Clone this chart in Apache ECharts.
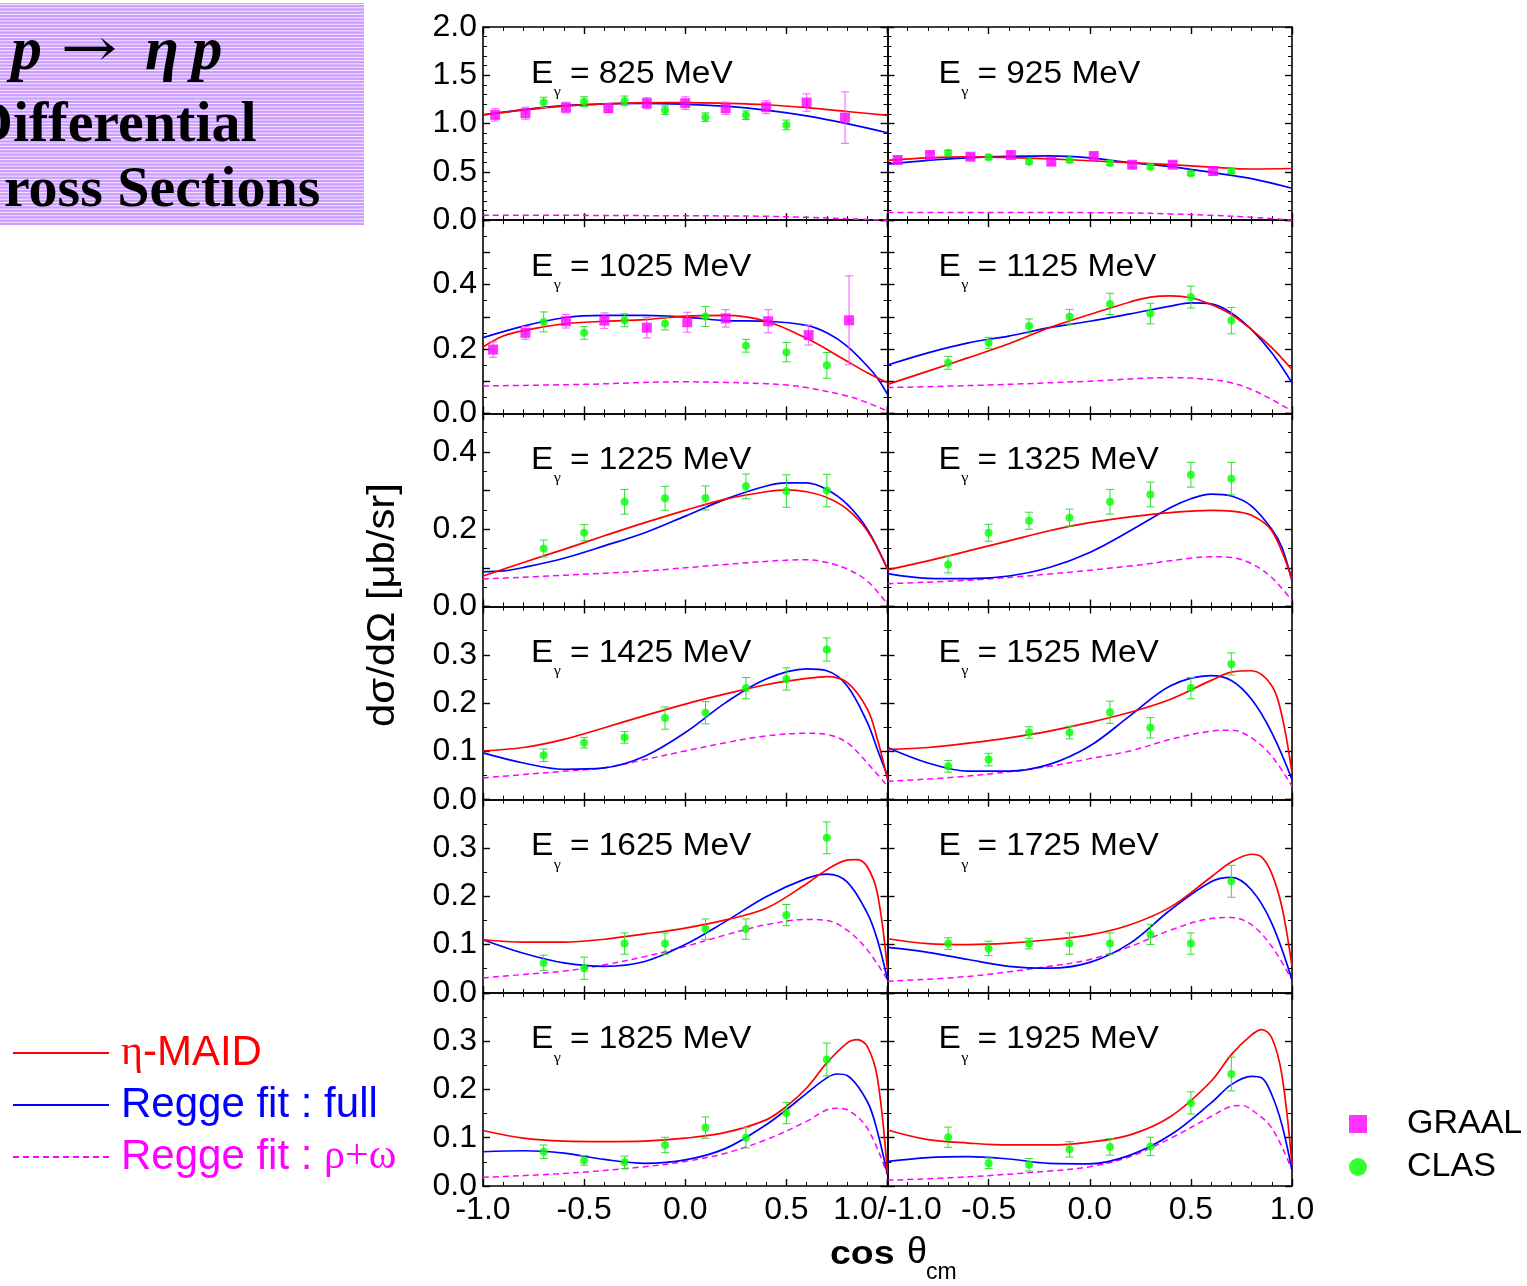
<!DOCTYPE html>
<html>
<head>
<meta charset="utf-8">
<script src="https://cdn.jsdelivr.net/npm/echarts@6/dist/echarts.min.js"></script>
<style>
html, body { margin: 0; padding: 0; background: #fff; }
#chart { width: 1527px; height: 1286px; }
</style>
</head>
<body>
<div id="chart"></div>
<script>
// Photon beam energies (MeV) of the twelve panels, left-to-right, top-to-bottom
const energies = [825, 925, 1025, 1125, 1225, 1325, 1425, 1525, 1625, 1725, 1825, 1925];

// Vertical range of each panel row: top of scale, tick step, labelled step, minor splits
const rowMax = [2.0, 0.6, 0.5, 0.4, 0.4, 0.4];
const rowStep = [0.5, 0.1, 0.1, 0.1, 0.1, 0.1];
const rowLabelStep = [0.5, 0.2, 0.2, 0.1, 0.1, 0.1];
const rowMinor = [5, 2, 2, 2, 2, 2];

// ---- model curves: [cos(theta_cm), dsigma/dOmega] ----
// eta-MAID
const maid825 = [[-1,1.09],[-0.8,1.14],[-0.6,1.18],[-0.4,1.205],[-0.2,1.215],[0,1.218],[0.2,1.21],[0.4,1.195],[0.6,1.165],[0.8,1.125],[1,1.085]];
const maid925 = [[-1,0.62],[-0.8,0.645],[-0.6,0.655],[-0.4,0.648],[-0.2,0.635],[0,0.615],[0.2,0.595],[0.4,0.575],[0.6,0.55],[0.8,0.53],[1,0.535]];
const maid1025 = [[-1,0.206],[-0.9,0.24],[-0.8,0.257],[-0.6,0.278],[-0.4,0.286],[-0.2,0.291],[0,0.302],[0.2,0.304],[0.4,0.286],[0.6,0.233],[0.8,0.162],[0.9,0.126],[1,0.095]];
const maid1125 = [[-1,0.09],[-0.8,0.131],[-0.6,0.173],[-0.4,0.216],[-0.2,0.266],[0,0.307],[0.2,0.346],[0.3,0.361],[0.4,0.365],[0.5,0.359],[0.6,0.338],[0.7,0.307],[0.8,0.26],[0.9,0.204],[1,0.136]];
const maid1225 = [[-1,0.079],[-0.8,0.114],[-0.6,0.148],[-0.4,0.183],[-0.2,0.217],[0,0.249],[0.2,0.278],[0.4,0.297],[0.5,0.302],[0.6,0.297],[0.7,0.282],[0.8,0.252],[0.9,0.196],[1,0.097]];
const maid1325 = [[-1,0.095],[-0.8,0.118],[-0.6,0.144],[-0.4,0.17],[-0.2,0.196],[0,0.217],[0.2,0.232],[0.4,0.243],[0.6,0.249],[0.7,0.247],[0.8,0.236],[0.9,0.196],[1,0.07]];
const maid1425 = [[-1,0.101],[-0.8,0.108],[-0.6,0.125],[-0.4,0.149],[-0.2,0.174],[0,0.198],[0.2,0.219],[0.4,0.238],[0.6,0.251],[0.7,0.255],[0.8,0.243],[0.9,0.188],[0.95,0.125],[1,0.042]];
const maid1525 = [[-1,0.104],[-0.8,0.108],[-0.6,0.117],[-0.4,0.128],[-0.2,0.142],[0,0.16],[0.2,0.181],[0.4,0.208],[0.6,0.247],[0.7,0.264],[0.8,0.267],[0.9,0.236],[0.95,0.174],[1,0.056]];
const maid1625 = [[-1,0.11],[-0.8,0.105],[-0.6,0.105],[-0.4,0.111],[-0.2,0.122],[0,0.134],[0.2,0.151],[0.4,0.175],[0.6,0.226],[0.7,0.255],[0.8,0.275],[0.85,0.276],[0.9,0.261],[0.95,0.206],[1,0.048]];
const maid1725 = [[-1,0.112],[-0.8,0.102],[-0.6,0.1],[-0.4,0.103],[-0.2,0.11],[0,0.12],[0.2,0.141],[0.4,0.178],[0.6,0.24],[0.7,0.271],[0.8,0.287],[0.85,0.281],[0.9,0.247],[0.95,0.178],[1,0.055]];
const maid1825 = [[-1,0.115],[-0.8,0.099],[-0.6,0.093],[-0.4,0.092],[-0.2,0.093],[0,0.099],[0.2,0.111],[0.4,0.137],[0.5,0.165],[0.6,0.203],[0.7,0.255],[0.8,0.296],[0.85,0.303],[0.9,0.289],[0.95,0.224],[1,0.026]];
const maid1925 = [[-1,0.116],[-0.8,0.096],[-0.6,0.089],[-0.4,0.085],[-0.2,0.085],[0,0.091],[0.2,0.106],[0.4,0.144],[0.6,0.217],[0.7,0.272],[0.8,0.313],[0.85,0.324],[0.9,0.307],[0.95,0.23],[1,0.044]];

// Regge fit, full amplitude
const regge825 = [[-1,1.09],[-0.8,1.145],[-0.6,1.185],[-0.4,1.205],[-0.2,1.21],[0,1.2],[0.2,1.18],[0.4,1.14],[0.6,1.08],[0.8,1.0],[1,0.905]];
const regge925 = [[-1,0.58],[-0.8,0.62],[-0.6,0.645],[-0.4,0.66],[-0.2,0.665],[0,0.645],[0.2,0.595],[0.4,0.555],[0.6,0.495],[0.8,0.43],[1,0.33]];
const regge1025 = [[-1,0.235],[-0.8,0.271],[-0.6,0.297],[-0.4,0.304],[-0.2,0.304],[0,0.299],[0.2,0.288],[0.4,0.286],[0.6,0.273],[0.7,0.25],[0.8,0.209],[0.9,0.147],[0.95,0.11],[1,0.059]];
const regge1125 = [[-1,0.15],[-0.8,0.188],[-0.6,0.219],[-0.4,0.24],[-0.2,0.266],[0,0.286],[0.2,0.309],[0.4,0.333],[0.5,0.343],[0.6,0.34],[0.7,0.312],[0.8,0.26],[0.9,0.188],[1,0.095]];
const regge1225 = [[-1,0.09],[-0.9,0.092],[-0.8,0.101],[-0.6,0.125],[-0.4,0.157],[-0.2,0.191],[0,0.234],[0.2,0.278],[0.4,0.312],[0.5,0.32],[0.6,0.32],[0.7,0.303],[0.8,0.265],[0.9,0.2],[1,0.097]];
const regge1325 = [[-1,0.085],[-0.8,0.073],[-0.6,0.072],[-0.4,0.079],[-0.2,0.101],[0,0.14],[0.2,0.196],[0.4,0.256],[0.5,0.279],[0.6,0.291],[0.7,0.286],[0.8,0.26],[0.9,0.2],[0.95,0.153],[1,0.066]];
const regge1425 = [[-1,0.097],[-0.8,0.076],[-0.6,0.063],[-0.4,0.066],[-0.2,0.09],[0,0.139],[0.2,0.201],[0.4,0.25],[0.6,0.271],[0.7,0.267],[0.8,0.236],[0.9,0.16],[0.95,0.104],[1,0.049]];
const regge1525 = [[-1,0.108],[-0.8,0.076],[-0.6,0.059],[-0.4,0.059],[-0.2,0.073],[0,0.111],[0.2,0.174],[0.4,0.236],[0.6,0.257],[0.7,0.247],[0.8,0.208],[0.9,0.139],[1,0.042]];
const regge1625 = [[-1,0.11],[-0.8,0.082],[-0.6,0.062],[-0.4,0.055],[-0.2,0.065],[0,0.1],[0.2,0.148],[0.4,0.199],[0.6,0.237],[0.7,0.246],[0.8,0.23],[0.9,0.165],[0.95,0.11],[1,0.027]];
const regge1725 = [[-1,0.094],[-0.8,0.084],[-0.6,0.069],[-0.4,0.055],[-0.2,0.051],[0,0.063],[0.2,0.103],[0.4,0.172],[0.6,0.23],[0.7,0.239],[0.8,0.213],[0.9,0.144],[1,0.027]];
const regge1825 = [[-1,0.071],[-0.8,0.073],[-0.6,0.068],[-0.4,0.055],[-0.2,0.047],[0,0.054],[0.2,0.078],[0.4,0.127],[0.5,0.158],[0.6,0.192],[0.7,0.224],[0.75,0.232],[0.8,0.229],[0.9,0.175],[0.95,0.113],[1,0.023]];
const regge1925 = [[-1,0.051],[-0.8,0.059],[-0.6,0.061],[-0.4,0.056],[-0.2,0.047],[0,0.046],[0.2,0.064],[0.4,0.106],[0.6,0.172],[0.7,0.21],[0.8,0.227],[0.85,0.224],[0.9,0.189],[0.95,0.127],[1,0.033]];

// Regge fit, rho + omega exchange only
const rhoOmega825 = [[-1,0.05],[-0.6,0.05],[-0.2,0.047],[0.2,0.044],[0.4,0.04],[0.6,0.03],[0.8,0.015],[1,0.0]];
const rhoOmega925 = [[-1,0.08],[-0.5,0.08],[0,0.078],[0.2,0.075],[0.4,0.065],[0.6,0.05],[0.8,0.03],[1,0.0]];
const rhoOmega1025 = [[-1,0.085],[-0.5,0.09],[0,0.098],[0.2,0.096],[0.4,0.092],[0.5,0.088],[0.6,0.08],[0.8,0.054],[0.9,0.033],[1,0.007]];
const rhoOmega1125 = [[-1,0.08],[-0.5,0.088],[0,0.1],[0.4,0.111],[0.6,0.105],[0.7,0.095],[0.8,0.074],[0.9,0.043],[1,0.007]];
const rhoOmega1225 = [[-1,0.071],[-0.6,0.081],[-0.2,0.092],[0.2,0.109],[0.5,0.12],[0.6,0.121],[0.7,0.114],[0.8,0.097],[0.9,0.066],[1,0.006]];
const rhoOmega1325 = [[-1,0.059],[-0.6,0.068],[-0.2,0.084],[0.2,0.105],[0.5,0.125],[0.6,0.129],[0.7,0.127],[0.8,0.111],[0.9,0.075],[1,0.015]];
const rhoOmega1425 = [[-1,0.045],[-0.8,0.052],[-0.6,0.059],[-0.4,0.066],[-0.2,0.083],[0,0.101],[0.2,0.118],[0.4,0.132],[0.6,0.1375],[0.7,0.135],[0.8,0.118],[0.9,0.076],[1,0.028]];
const rhoOmega1525 = [[-1,0.038],[-0.6,0.049],[-0.2,0.069],[0,0.085],[0.2,0.101],[0.4,0.125],[0.6,0.142],[0.7,0.144],[0.8,0.128],[0.9,0.09],[1,0.028]];
const rhoOmega1625 = [[-1,0.031],[-0.8,0.038],[-0.6,0.045],[-0.4,0.058],[-0.2,0.075],[0,0.096],[0.2,0.12],[0.4,0.141],[0.6,0.152],[0.7,0.15],[0.8,0.13],[0.9,0.089],[1,0.027]];
const rhoOmega1725 = [[-1,0.024],[-0.6,0.034],[-0.2,0.055],[0,0.069],[0.2,0.096],[0.4,0.13],[0.6,0.154],[0.7,0.156],[0.8,0.141],[0.9,0.096],[1,0.027]];
const rhoOmega1825 = [[-1,0.018],[-0.6,0.026],[-0.2,0.04],[0,0.051],[0.2,0.068],[0.4,0.096],[0.6,0.134],[0.7,0.158],[0.75,0.161],[0.8,0.158],[0.9,0.12],[1,0.023]];
const rhoOmega1925 = [[-1,0.012],[-0.6,0.019],[-0.2,0.031],[0,0.04],[0.2,0.061],[0.4,0.099],[0.6,0.144],[0.7,0.165],[0.75,0.167],[0.8,0.158],[0.9,0.12],[1,0.033]];

// ---- measurements: [cos(theta_cm), dsigma/dOmega, error] ----
const graal825 = [[-0.94,1.09,0.064],[-0.79,1.107,0.062],[-0.59,1.166,0.055],[-0.38,1.159,0.045],[-0.19,1.211,0.057],[0,1.211,0.066],[0.2,1.159,0.064],[0.4,1.17,0.067],[0.6,1.218,0.09],[0.79,1.062,0.266]];
const graal925 = [[-0.95,0.623,0.03],[-0.79,0.675,0.03],[-0.59,0.657,0.03],[-0.39,0.675,0.03],[-0.19,0.606,0.03],[0.02,0.664,0.03],[0.21,0.574,0.03],[0.41,0.574,0.03],[0.61,0.509,0.04]];
const graal1025 = [[-0.95,0.198,0.024],[-0.79,0.25,0.02],[-0.59,0.286,0.021],[-0.4,0.288,0.024],[-0.19,0.266,0.032],[0.01,0.283,0.031],[0.2,0.295,0.027],[0.41,0.286,0.036],[0.61,0.243,0.031],[0.81,0.289,0.138]];

const clas825 = [[-0.7,1.221,0.052],[-0.5,1.228,0.05],[-0.3,1.235,0.05],[-0.1,1.138,0.045],[0.1,1.066,0.045],[0.3,1.087,0.045],[0.5,0.986,0.05]];
const clas925 = [[-0.7,0.699,0.025],[-0.5,0.651,0.025],[-0.3,0.606,0.025],[-0.1,0.623,0.025],[0.1,0.592,0.025],[0.3,0.554,0.025],[0.5,0.484,0.02],[0.7,0.509,0.025]];
const clas1025 = [[-0.7,0.284,0.031],[-0.5,0.25,0.02],[-0.3,0.289,0.02],[-0.1,0.279,0.02],[0.1,0.301,0.031],[0.3,0.21,0.02],[0.5,0.19,0.03],[0.7,0.149,0.04]];
const clas1125 = [[-0.7,0.157,0.02],[-0.5,0.219,0.017],[-0.3,0.271,0.022],[-0.1,0.3,0.023],[0.1,0.34,0.033],[0.3,0.31,0.032],[0.5,0.361,0.034],[0.7,0.288,0.041]];
const clas1225 = [[-0.7,0.15,0.022],[-0.5,0.191,0.021],[-0.3,0.271,0.032],[-0.1,0.28,0.031],[0.1,0.281,0.031],[0.3,0.311,0.032],[0.5,0.299,0.042],[0.7,0.3,0.042]];
const clas1325 = [[-0.7,0.109,0.022],[-0.5,0.191,0.022],[-0.3,0.222,0.022],[-0.1,0.23,0.022],[0.1,0.271,0.032],[0.3,0.29,0.032],[0.5,0.341,0.032],[0.7,0.331,0.042]];
const clas1425 = [[-0.7,0.092,0.013],[-0.5,0.118,0.011],[-0.3,0.129,0.012],[-0.1,0.169,0.023],[0.1,0.18,0.023],[0.3,0.231,0.022],[0.5,0.25,0.023],[0.7,0.311,0.024]];
const clas1525 = [[-0.7,0.069,0.012],[-0.5,0.083,0.013],[-0.3,0.139,0.012],[-0.1,0.139,0.013],[0.1,0.181,0.023],[0.3,0.149,0.021],[0.5,0.231,0.022],[0.7,0.281,0.023]];
const clas1625 = [[-0.7,0.062,0.016],[-0.5,0.051,0.023],[-0.3,0.102,0.022],[-0.1,0.102,0.022],[0.1,0.132,0.021],[0.3,0.132,0.021],[0.5,0.161,0.022],[0.7,0.321,0.033]];
const clas1725 = [[-0.7,0.102,0.012],[-0.5,0.092,0.015],[-0.3,0.102,0.011],[-0.1,0.102,0.022],[0.1,0.102,0.022],[0.3,0.121,0.021],[0.5,0.102,0.022],[0.7,0.231,0.033]];
const clas1825 = [[-0.7,0.071,0.014],[-0.5,0.053,0.01],[-0.3,0.049,0.013],[-0.1,0.085,0.016],[0.1,0.121,0.022],[0.3,0.1,0.021],[0.5,0.151,0.022],[0.7,0.262,0.034]];
const clas1925 = [[-0.7,0.101,0.021],[-0.5,0.047,0.011],[-0.3,0.044,0.013],[-0.1,0.076,0.016],[0.1,0.081,0.017],[0.3,0.082,0.019],[0.5,0.172,0.023],[0.7,0.232,0.035]];

// Per-panel lookup tables built from the arrays above
const maidCurves = [maid825, maid925, maid1025, maid1125, maid1225, maid1325, maid1425, maid1525, maid1625, maid1725, maid1825, maid1925];
const reggeCurves = [regge825, regge925, regge1025, regge1125, regge1225, regge1325, regge1425, regge1525, regge1625, regge1725, regge1825, regge1925];
const rhoOmegaCurves = [rhoOmega825, rhoOmega925, rhoOmega1025, rhoOmega1125, rhoOmega1225, rhoOmega1325, rhoOmega1425, rhoOmega1525, rhoOmega1625, rhoOmega1725, rhoOmega1825, rhoOmega1925];
const graalSets = [graal825, graal925, graal1025, null, null, null, null, null, null, null, null, null];
const clasSets = [clas825, clas925, clas1025, clas1125, clas1225, clas1325, clas1425, clas1525, clas1625, clas1725, clas1825, clas1925];

const NAME_MAID = 'η-MAID';
const NAME_FULL = 'Regge fit : full';
const NAME_RO = 'Regge fit : ρ+ω';

// ---- layout ----
const PLOT_LEFT = 483, PLOT_TOP = 27, PANEL_W = 404.5, PANEL_H = 193.17;
const SANS = '"Liberation Sans", Arial, sans-serif';
const SERIF = '"Liberation Serif", "Times New Roman", serif';
const RED = '#ff0000', BLUE = '#0000ff', MAGENTA = '#ff00ff', GREEN = '#00ff00';

const grids = [], xAxes = [], yAxes = [], series = [], graphics = [];

function fmt1(v) { return (Math.abs(v) < 1e-9 ? 0 : v).toFixed(1); }

function frameAxisBase() {
  return {
    type: 'value',
    axisLine: { show: true, onZero: false, lineStyle: { color: '#000', width: 1.6 } },
    axisTick: { show: true, inside: true, length: 7, lineStyle: { color: '#000', width: 1.4 } },
    splitLine: { show: false },
    minorSplitLine: { show: false }
  };
}

function errorBarSeries(data, idx, color) {
  return {
    type: 'custom', xAxisIndex: 2 * idx, yAxisIndex: 2 * idx, data: data,
    encode: { x: 0, y: 1 }, clip: true, z: 3, silent: true,
    renderItem: function (params, api) {
      const x = api.value(0), y = api.value(1), e = api.value(2);
      const hi = api.coord([x, y + e]), lo = api.coord([x, y - e]);
      const cap = 4, st = { stroke: color, lineWidth: 1 };
      return {
        type: 'group', children: [
          { type: 'line', shape: { x1: hi[0], y1: hi[1], x2: lo[0], y2: lo[1] }, style: st },
          { type: 'line', shape: { x1: hi[0] - cap, y1: hi[1], x2: hi[0] + cap, y2: hi[1] }, style: st },
          { type: 'line', shape: { x1: lo[0] - cap, y1: lo[1], x2: lo[0] + cap, y2: lo[1] }, style: st }
        ]
      };
    }
  };
}

energies.forEach(function (E, i) {
  const row = Math.floor(i / 2), col = i % 2;
  const left = PLOT_LEFT + col * PANEL_W;
  const top = PLOT_TOP + row * PANEL_H;
  grids.push({ left: left, top: top, width: PANEL_W, height: PANEL_H, containLabel: false, outerBoundsMode: 'none' });

  const isBottom = row === 5;
  // bottom x axis (carries the data)
  xAxes.push(Object.assign(frameAxisBase(), {
    gridIndex: i, position: 'bottom', min: -1, max: 1, interval: 0.5,
    minorTick: { show: true, splitNumber: 5, length: 4, lineStyle: { color: '#000', width: 1 } },
    axisLabel: {
      show: isBottom, margin: 8, color: '#000', fontFamily: SANS, fontSize: 32,
      showMinLabel: col === 0, showMaxLabel: true,
      formatter: function (v) { return (col === 0 && v === 1) ? '1.0/-1.0' : fmt1(v); }
    }
  }));
  // top mirror axis
  xAxes.push(Object.assign(frameAxisBase(), {
    gridIndex: i, position: 'top', min: -1, max: 1, interval: 0.5,
    minorTick: { show: true, splitNumber: 5, length: 4, lineStyle: { color: '#000', width: 1 } },
    axisLabel: { show: false }
  }));

  const lblStep = rowLabelStep[row];
  // left y axis (carries the data)
  yAxes.push(Object.assign(frameAxisBase(), {
    gridIndex: i, position: 'left', min: 0, max: rowMax[row], interval: rowStep[row],
    minorTick: { show: true, splitNumber: rowMinor[row], length: 4, lineStyle: { color: '#000', width: 1 } },
    axisLabel: {
      show: col === 0, margin: 6, color: '#000', fontFamily: SANS, fontSize: 32,
      showMinLabel: true, showMaxLabel: row === 0,
      formatter: function (v) {
        const k = v / lblStep;
        return Math.abs(k - Math.round(k)) < 1e-6 ? fmt1(v) : '';
      }
    }
  }));
  // right mirror axis
  yAxes.push(Object.assign(frameAxisBase(), {
    gridIndex: i, position: 'right', min: 0, max: rowMax[row], interval: rowStep[row],
    minorTick: { show: true, splitNumber: rowMinor[row], length: 4, lineStyle: { color: '#000', width: 1 } },
    axisLabel: { show: false }
  }));

  const ax = { xAxisIndex: 2 * i, yAxisIndex: 2 * i };
  series.push(Object.assign({
    type: 'line', name: NAME_RO, data: rhoOmegaCurves[i], smooth: 0.35, symbol: 'none', silent: true, z: 2,
    lineStyle: { color: MAGENTA, width: 1.5, type: [6, 4] }, itemStyle: { color: MAGENTA }
  }, ax));
  series.push(Object.assign({
    type: 'line', name: NAME_FULL, data: reggeCurves[i], smooth: 0.35, symbol: 'none', silent: true, z: 2,
    lineStyle: { color: BLUE, width: 1.7 }, itemStyle: { color: BLUE }
  }, ax));
  series.push(Object.assign({
    type: 'line', name: NAME_MAID, data: maidCurves[i], smooth: 0.35, symbol: 'none', silent: true, z: 2,
    lineStyle: { color: RED, width: 1.7 }, itemStyle: { color: RED }
  }, ax));

  if (graalSets[i]) {
    series.push(errorBarSeries(graalSets[i], i, '#ff55ff'));
    series.push(Object.assign({
      type: 'scatter', name: 'GRAAL', data: graalSets[i].map(function (d) { return [d[0], d[1]]; }),
      symbol: 'rect', symbolSize: 10, itemStyle: { color: MAGENTA }, z: 4, silent: true
    }, ax));
  }
  series.push(errorBarSeries(clasSets[i], i, '#33dd33'));
  series.push(Object.assign({
    type: 'scatter', name: 'CLAS', data: clasSets[i].map(function (d) { return [d[0], d[1]]; }),
    symbol: 'circle', symbolSize: 8, itemStyle: { color: GREEN }, z: 4, silent: true
  }, ax));

  // panel caption "E_gamma = ... MeV"
  const tx = left + (col === 0 ? 48 : 51);
  const ty = top + 47;
  graphics.push({
    type: 'group', x: tx, y: ty, scaleX: 1.08, silent: true,
    children: [
      { type: 'text', x: 0, y: 0, style: { text: 'E', font: '31px ' + SANS, fill: '#000', verticalAlign: 'middle' } },
      { type: 'text', x: 21, y: 18, style: { text: 'γ', font: '15px ' + SERIF, fill: '#000', verticalAlign: 'middle' } },
      { type: 'text', x: 36, y: 0, style: { text: '= ' + E + ' MeV', font: '31px ' + SANS, fill: '#000', verticalAlign: 'middle' } }
    ]
  });
});

// ---- title block: striped lavender panel ----
const titleChildren = [{ type: 'rect', shape: { x: 0, y: 3, width: 364, height: 222 }, style: { fill: '#cc9cff' } }];
for (let y = 4.5; y < 225; y += 3.3) {
  titleChildren.push({ type: 'line', shape: { x1: 0, y1: y, x2: 364, y2: y }, style: { stroke: '#f4ecff', lineWidth: 1 } });
}
titleChildren.push({ type: 'text', x: 42, y: 53, style: { text: 'γ\u2009p', font: 'italic bold 62px ' + SERIF, fill: '#000', align: 'right', verticalAlign: 'middle' } });
titleChildren.push({ type: 'text', x: 89, y: 52, scaleX: 1.25, style: { text: '→', font: '54px "DejaVu Serif", serif', fill: '#000', align: 'center', verticalAlign: 'middle' } });
titleChildren.push({ type: 'text', x: 145, y: 53, style: { text: 'η\u2009p', font: 'italic bold 62px ' + SERIF, fill: '#000', verticalAlign: 'middle' } });
titleChildren.push({ type: 'text', x: -29, y: 126, style: { text: 'Differential', font: 'bold 58px ' + SERIF, fill: '#000', verticalAlign: 'middle' } });
titleChildren.push({ type: 'text', x: -38, y: 191, style: { text: 'Cross Sections', font: 'bold 58px ' + SERIF, fill: '#000', verticalAlign: 'middle' } });
graphics.push({ type: 'group', silent: true, children: titleChildren });

// ---- axis titles ----
graphics.push({ type: 'text', x: 384, y: 605, rotation: Math.PI / 2, scaleX: 1.1, silent: true,
  style: { text: 'dσ/dΩ [μb/sr]', font: '38px ' + SANS, fill: '#000', align: 'center', verticalAlign: 'middle' } });
graphics.push({ type: 'text', x: 830, y: 1255, scaleX: 1.1, silent: true,
  style: { text: 'cos', font: 'bold 34px ' + SANS, fill: '#000', verticalAlign: 'middle' } });
graphics.push({ type: 'text', x: 907, y: 1253, silent: true,
  style: { text: 'θ', font: '36px ' + SANS, fill: '#000', verticalAlign: 'middle' } });
graphics.push({ type: 'text', x: 926, y: 1273, silent: true,
  style: { text: 'cm', font: '23px ' + SANS, fill: '#000', verticalAlign: 'middle' } });

const chart = echarts.init(document.getElementById('chart'), null, { renderer: 'canvas' });
chart.setOption({
  animation: false,
  backgroundColor: '#fff',
  grid: grids,
  xAxis: xAxes,
  yAxis: yAxes,
  series: series,
  graphic: graphics,
  legend: [
    {
      orient: 'vertical', left: 12, top: 1032, padding: 0, itemWidth: 96, itemHeight: 14, itemGap: 10,
      selectedMode: false,
      itemStyle: { opacity: 0 },
      data: [
        { name: NAME_MAID, textStyle: { color: RED } },
        { name: NAME_FULL, textStyle: { color: BLUE } },
        { name: NAME_RO, textStyle: { color: MAGENTA } }
      ],
      formatter: function (n) { return n.replace('η', '{g|η}').replace('ρ+ω', '{g|ρ+ω}'); },
      textStyle: {
        fontFamily: SANS, fontSize: 42, padding: [0, 0, 0, 7],
        rich: { g: { fontFamily: SERIF, fontSize: 42 } }
      }
    },
    {
      orient: 'vertical', left: 1349, top: 1107, padding: 0, itemWidth: 18, itemHeight: 18, itemGap: 9,
      selectedMode: false,
      data: [{ name: 'GRAAL' }, { name: 'CLAS' }],
      textStyle: { fontFamily: SANS, fontSize: 34, color: '#000', padding: [0, 0, 0, 35] }
    }
  ]
});
</script>
</body>
</html>
